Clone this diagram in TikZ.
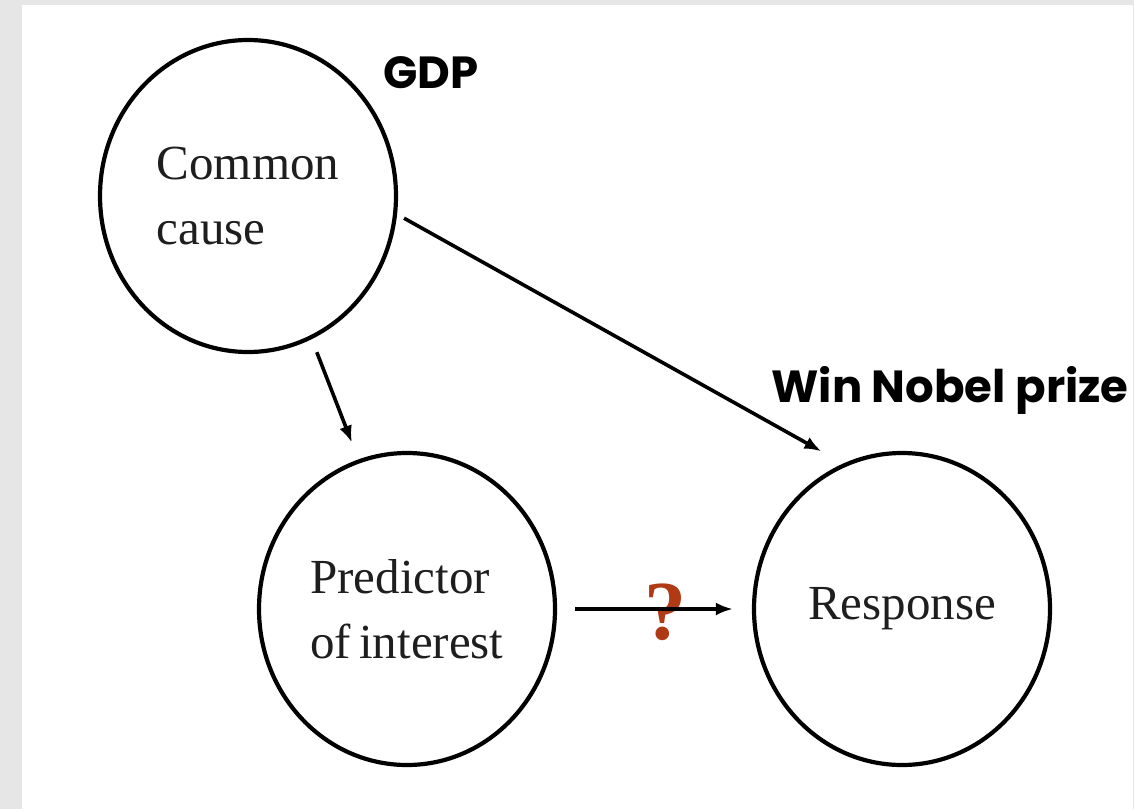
\documentclass[tikz,border=0pt]{standalone}
\usepackage{fontspec}
\setmainfont{Liberation Serif}
\newfontfamily\gothic{Poppins}
\usepackage{tikz}
\usetikzlibrary{arrows.meta,shapes.geometric}
\usepackage{xcolor}
\definecolor{bgGray}{HTML}{E6E6E6}
\definecolor{qRed}{HTML}{B03A14}
\definecolor{inkGray}{HTML}{1E1E1E}

\begin{document}
\begin{tikzpicture}[x=1pt, y=-1pt,
  var/.style={draw, ellipse, line width=4.2pt, minimum width=296pt, minimum height=312pt, inner sep=0pt, align=left, font=\fontsize{49}{65}\selectfont, text=inkGray},
  lbl/.style={font=\gothic\bfseries\fontsize{45}{45}\selectfont, anchor=base},
  arr/.style={-{Latex[length=17pt, width=13pt]}, line width=3.6pt}
]
\useasboundingbox (0,0) rectangle (1134,809);
\fill[bgGray] (0,0) rectangle (1134,809);
\fill[white] (22,5) rectangle (1133,809);

\node[var] (cause) at (248,196) {Common\\cause};
\node[var] (pred) at (407,609) {Predictor\\of\,interest};
\node[var] (resp) at (902,609) {Response};

\node[lbl] (gdpLbl) at (431,88) {GDP};
\node[lbl] (nobelLbl) at (950,402) {Win Nobel prize};

\node[font=\bfseries\fontsize{84}{84}\selectfont, text=qRed] (qMark) at (665,612) {?};
\draw[arr, shorten <=14pt, shorten >=18pt] (cause.-66) -- (pred.108);
\draw[arr, shorten <=8pt, shorten >=25pt] (cause.-7) -- (resp.112);
\draw[arr, shorten <=18pt, shorten >=19pt] (pred) -- (resp);
\end{tikzpicture}
\end{document}
